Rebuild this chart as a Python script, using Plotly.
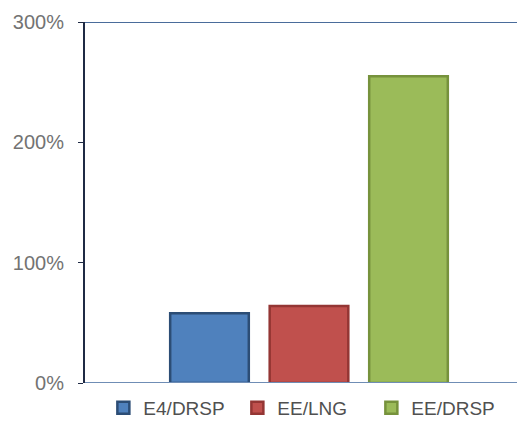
import plotly.graph_objects as go

series = ["E4/DRSP", "EE/LNG", "EE/DRSP"]
values = [58, 64, 255]
positions = [1, 2, 3]
fills = ["#4F81BD", "#C0504D", "#9BBB59"]
lines = ["#2C4D75", "#943634", "#76923C"]
tick_vals = [0, 100, 200, 300]
tick_text = ["0%", "100%", "200%", "300%"]

fig = go.Figure()
for name, v, p, f, l in zip(series, values, positions, fills, lines):
    fig.add_trace(go.Bar(
        x=[p], y=[v], name=name, width=0.79,
        marker=dict(color=f, line=dict(color=l, width=2.5)),
    ))

fig.update_layout(
    width=525, height=423,
    margin=dict(l=77, r=0, t=14, b=48, autoexpand=False),
    paper_bgcolor="white", plot_bgcolor="white",
    barmode="overlay",
    showlegend=True,
    legend=dict(orientation="h", x=0.041, xanchor="left",
                y=-0.069, yanchor="middle",
                font=dict(family="Liberation Sans, Arial", size=19, color="#505050"),
                entrywidth=89, entrywidthmode="pixels",
                itemwidth=30, tracegroupgap=0),
    font=dict(family="Liberation Sans, Arial"),
)
fig.update_xaxes(range=[-0.251, 4.251], showticklabels=False, showgrid=False,
                 zeroline=False, showline=False, fixedrange=True)
fig.update_yaxes(range=[0, 300], tickvals=tick_vals, ticktext=tick_text,
                 showgrid=False, zeroline=False,
                 showline=True, linecolor="#1F2A44", linewidth=2,
                 ticks="outside", ticklen=5, tickcolor="#1F2A44",
                 tickfont=dict(size=20, color="#737373"), ticklabelstandoff=10)
# baseline and top border
fig.add_hline(y=0, line=dict(color="#6F8DB5", width=2))
fig.add_hline(y=300, line=dict(color="#4A6C9B", width=2))

fig.write_html("out.html")
